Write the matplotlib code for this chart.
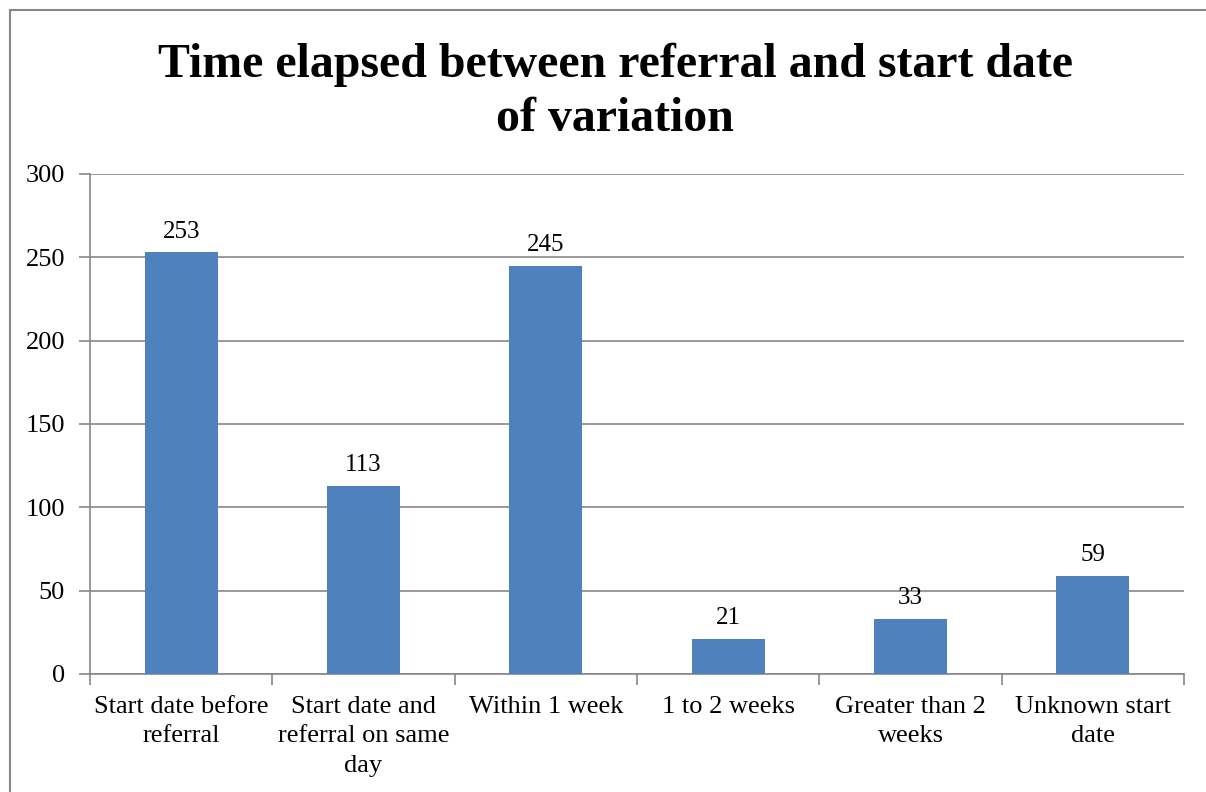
import matplotlib
matplotlib.use("Agg")
import matplotlib.pyplot as plt
from matplotlib.lines import Line2D
import numpy as np

categories = ["Start date before\nreferral", "Start date and\nreferral on same\nday",
              "Within 1 week", "1 to 2 weeks", "Greater than 2\nweeks", "Unknown start\ndate"]
values = [253, 113, 245, 21, 33, 59]
yticks = [0, 50, 100, 150, 200, 250, 300]
title = "Time elapsed between referral and start date\nof variation"

plt.rcParams['font.family'] = ['Liberation Serif', 'DejaVu Serif']

fig = plt.figure(figsize=(12.06, 7.92), dpi=100)
ax = fig.add_axes([90/1206, 1-674/792, (1184-90)/1206, (674-174)/792])

gray = "#878787"
bar_color = "#4F81BD"
x = np.arange(len(categories))
ax.bar(x, values, width=0.4, color=bar_color, zorder=3)
for xi, v in zip(x, values):
    ax.annotate(str(v), (xi, v), xytext=(0, 7), textcoords="offset points",
                ha="center", va="bottom", fontsize=18)

ax.set_xlim(-0.5, len(categories) - 0.5)
ax.set_ylim(0, 300)
ax.set_yticks(yticks)
ax.set_yticklabels([str(t) for t in yticks], fontsize=19)
ax.yaxis.grid(True, color=gray, linewidth=1.2, zorder=0)
ax.set_axisbelow(True)

ax.set_xticks(x)
ax.set_xticklabels(categories, fontsize=19, linespacing=1.42)
ax.tick_params(axis='x', length=0, pad=16)
ax.set_xticks(np.arange(-0.5, len(categories)), minor=True)
ax.tick_params(axis='x', which='minor', length=8, width=1.2, color=gray, direction='out')
ax.tick_params(axis='y', length=8, width=1.2, color=gray, direction='out', pad=10)

for s in ['top', 'right']:
    ax.spines[s].set_visible(False)
for s in ['left', 'bottom']:
    ax.spines[s].set_color(gray)
    ax.spines[s].set_linewidth(1.2)

fig.text(615/1206, 1-92/792, title, ha="center", va="center", fontsize=34.5,
         fontweight="bold", linespacing=1.29)

# chart frame border (left and top)
fig.add_artist(Line2D([10/1206, 10/1206], [0, 1-10/792], transform=fig.transFigure,
                      color=gray, linewidth=1.5))
fig.add_artist(Line2D([10/1206, 1], [1-10/792, 1-10/792], transform=fig.transFigure,
                      color=gray, linewidth=1.5))

fig.savefig("out.png", dpi=100, facecolor="white")
